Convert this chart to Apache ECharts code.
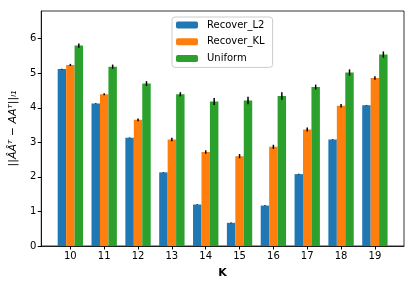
<!DOCTYPE html>
<html><head><meta charset="utf-8">
<script src="https://cdn.jsdelivr.net/npm/echarts@6/dist/echarts.min.js"></script>
<style>html,body{margin:0;padding:0;background:#fff}#c{width:415px;height:287px}</style>
</head><body><div id="c"></div>
<script>
const categories = [10, 11, 12, 13, 14, 15, 16, 17, 18, 19];
const recoverL2 = [5.12, 4.12, 3.13, 2.13, 1.20, 0.67, 1.17, 2.08, 3.08, 4.07];
const recoverL2Err = [0.01, 0.01, 0.01, 0.01, 0.01, 0.01, 0.01, 0.01, 0.01, 0.01];
const recoverKL = [5.24, 4.39, 3.65, 3.08, 2.72, 2.60, 2.87, 3.37, 4.06, 4.86];
const recoverKLErr = [0.03, 0.03, 0.04, 0.05, 0.05, 0.06, 0.06, 0.06, 0.05, 0.05];
const uniform = [5.80, 5.19, 4.70, 4.39, 4.18, 4.21, 4.34, 4.60, 5.02, 5.54];
const uniformErr = [0.06, 0.06, 0.07, 0.06, 0.1, 0.11, 0.11, 0.07, 0.09, 0.09];
const seriesNames = ['Recover_L2', 'Recover_KL', 'Uniform'];
const yTicks = [0, 1, 2, 3, 4, 5, 6];

const colors = ['#1f77b4', '#ff7f0e', '#2ca02c'];
const vals = [recoverL2, recoverKL, uniform];
const errs = [recoverL2Err, recoverKLErr, uniformErr];
const offsets = [-0.25, 0, 0.25];
const chart = echarts.init(document.getElementById('c'), null, {renderer: 'canvas'});
const font = 'DejaVu Sans';
const series = [];
vals.forEach((v, i) => {
  series.push({
    name: seriesNames[i], type: 'bar', barWidth: 8.45, barGap: '0%',
    itemStyle: {color: colors[i]},
    data: categories.map((k, j) => [k, v[j]]),
    z: 2
  });
});
vals.forEach((v, i) => {
  series.push({
    type: 'custom', silent: true, z: 5,
    data: categories.map((k, j) => [k + offsets[i], v[j] - errs[i][j], v[j] + errs[i][j]]),
    renderItem: function (params, api) {
      const lo = api.coord([api.value(0), api.value(1)]);
      const hi = api.coord([api.value(0), api.value(2)]);
      return {type: 'line', shape: {x1: lo[0], y1: lo[1], x2: hi[0], y2: hi[1]},
        style: {stroke: '#000', lineWidth: 1.5}};
    }
  });
});
chart.setOption({
  animation: false,
  grid: {left: 41, right: 11, top: 11, bottom: 41, show: true, borderColor: '#000', borderWidth: 0.8},
  legend: {
    data: seriesNames, orient: 'vertical', left: 172, top: 17,
    itemWidth: 22, itemHeight: 7, itemGap: 4.7,
    padding: [2, 8, 3, 4], borderColor: '#ccc', borderWidth: 1, borderRadius: 3,
    backgroundColor: 'rgba(255,255,255,0.8)',
    textStyle: {fontFamily: font, fontSize: 10, lineHeight: 12, color: '#000', padding: [0, 0, 0, 4]}
  },
  xAxis: {
    type: 'value', min: 9.14, max: 19.86,
    name: 'K', nameLocation: 'middle', nameGap: 22,
    nameTextStyle: {fontFamily: font, fontSize: 11, fontWeight: 'bold', color: '#000'},
    axisLine: {show: true, onZero: false, lineStyle: {color: '#000', width: 0.8}},
    axisTick: {show: true, length: 3.5, lineStyle: {color: '#000'}, customValues: categories},
    axisLabel: {fontFamily: font, fontSize: 10, color: '#000', margin: 5, customValues: categories},
    splitLine: {show: false}
  },
  yAxis: {
    type: 'value', min: 0, max: 6.8, interval: 1,
    name: '||ÂÂᵀ − AAᵀ||ₗ₁', nameLocation: 'middle', nameGap: 14, nameRotate: 90,
    nameTextStyle: {fontFamily: font, fontSize: 11, color: '#000', fontStyle: 'italic'},
    axisLine: {show: true, lineStyle: {color: '#000', width: 0.8}},
    axisTick: {show: true, length: 3.5, lineStyle: {color: '#000'}, customValues: yTicks},
    axisLabel: {fontFamily: font, fontSize: 10, color: '#000', margin: 5, customValues: yTicks},
    splitLine: {show: false}
  },
  series: series
});
</script></body></html>
